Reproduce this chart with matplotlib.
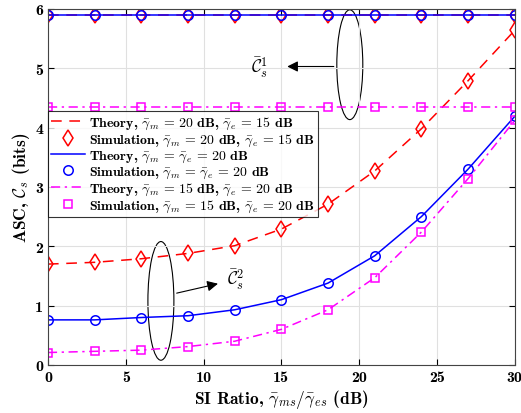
import numpy as np
import matplotlib.pyplot as plt
from matplotlib.patches import Ellipse

# SI ratio in dB
si_db = [0, 3, 6, 9, 12, 15, 18, 21, 24, 27, 30]

# upper curves (C_s^1), flat over SI ratio
c1_red = [5.9] * 11
c1_blue = [5.9] * 11
c1_mag = [4.35] * 11

# lower curves (C_s^2)
c2_red = [1.70, 1.73, 1.79, 1.88, 2.01, 2.29, 2.71, 3.27, 3.98, 4.79, 5.64]
c2_blue = [0.76, 0.76, 0.80, 0.83, 0.93, 1.10, 1.38, 1.84, 2.50, 3.30, 4.19]
c2_mag = [0.21, 0.23, 0.25, 0.31, 0.40, 0.60, 0.93, 1.47, 2.24, 3.14, 4.12]

labels = [
    r'Theory, $\bar{\gamma}_m \,=\, 20$ dB, $\bar{\gamma}_e \,=\, 15$ dB',
    r'Simulation, $\bar{\gamma}_m \,=\, 20$ dB, $\bar{\gamma}_e \,=\, 15$ dB',
    r'Theory, $\bar{\gamma}_m \,=\, \bar{\gamma}_e \,=\, 20$ dB',
    r'Simulation, $\bar{\gamma}_m \,=\, \bar{\gamma}_e \,=\, 20$ dB',
    r'Theory, $\bar{\gamma}_m \,=\, 15$ dB, $\bar{\gamma}_e \,=\, 20$ dB',
    r'Simulation, $\bar{\gamma}_m \,=\, 15$ dB, $\bar{\gamma}_e \,=\, 20$ dB',
]

plt.rcParams['font.family'] = ['cmb10', 'DejaVu Serif']
plt.rcParams['mathtext.fontset'] = 'cm'
plt.rcParams['axes.unicode_minus'] = False

fig = plt.figure(figsize=(5.21, 4.14), dpi=100)
ax = fig.add_axes([0.092, 0.116, 0.896, 0.86])

styles = [
    ('#ff0000', (0, (7, 5)), 'd', 8.5, c1_red, c2_red),
    ('#0000ff', '-', 'o', 6.8, c1_blue, c2_blue),
    ('#ff00ff', (0, (6, 3, 1.5, 3)), 's', 5.8, c1_mag, c2_mag),
]
handles = []
for color, ls, mk, ms, c1, c2 in styles:
    h1, = ax.plot(si_db, c2, color=color, linestyle=ls, linewidth=1.1)
    ax.plot(si_db, c1, color=color, linestyle=ls, linewidth=1.1)
    h2, = ax.plot(si_db, c2, color=color, linestyle='none', marker=mk,
                  markersize=ms, markerfacecolor='none', markeredgewidth=1.1)
    ax.plot(si_db, c1, color=color, linestyle='none', marker=mk,
            markersize=ms, markerfacecolor='none', markeredgewidth=1.1)
    handles += [h1, h2]

ax.set_xlim(0, 30)
ax.set_ylim(0, 6)
ax.set_xticks([0, 5, 10, 15, 20, 25, 30])
ax.set_yticks([0, 1, 2, 3, 4, 5, 6])
ax.grid(True, color='#e0e0e0', linewidth=0.8)
ax.tick_params(direction='in', labelsize=11.5, length=4, top=True, right=True)
for s in ax.spines.values():
    s.set_color('#444444')

ax.set_xlabel(r'SI Ratio, $\bar{\gamma}_{ms}/\bar{\gamma}_{es}$ (dB)', fontsize=12.5, labelpad=2)
ax.set_ylabel(r'ASC, $\mathcal{C}_s$ (bits)', fontsize=12.5, labelpad=2)

leg = ax.legend(handles, labels, loc='upper left', bbox_to_anchor=(0.0, 0.712),
                fontsize=10.0, frameon=True, fancybox=False, edgecolor='black',
                handlelength=2.4, handletextpad=0.3, labelspacing=0.05,
                borderpad=0.25, borderaxespad=0.0)
leg.get_frame().set_linewidth(0.8)

# ellipse + arrow annotations
ax.add_patch(Ellipse((19.4, 5.06), 1.67, 1.85, fill=False, edgecolor='k', linewidth=0.8))
ax.annotate('', xy=(15.2, 5.03), xytext=(18.55, 5.03),
            arrowprops=dict(arrowstyle='-|>', color='k', lw=0.8, mutation_scale=16))
ax.text(13.6, 5.03, r'$\bar{\mathcal{C}}_s^1$', fontsize=12.5, ha='center', va='center')

ax.add_patch(Ellipse((7.26, 1.08), 1.67, 2.0, fill=False, edgecolor='k', linewidth=0.8))
ax.annotate('', xy=(11.1, 1.38), xytext=(8.1, 1.2),
            arrowprops=dict(arrowstyle='-|>', color='k', lw=0.8, mutation_scale=16))
ax.text(11.5, 1.45, r'$\bar{\mathcal{C}}_s^2$', fontsize=12.5, ha='left', va='center')

fig.savefig('out.png', dpi=100)
